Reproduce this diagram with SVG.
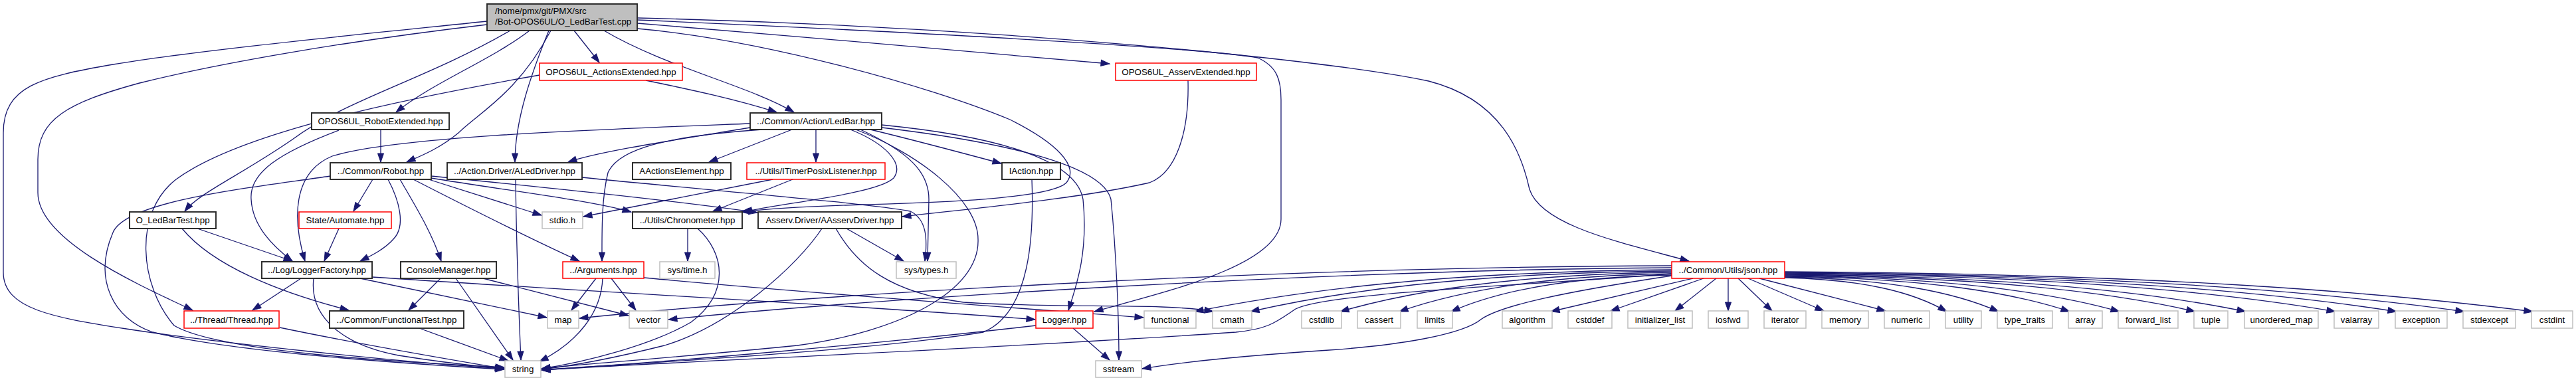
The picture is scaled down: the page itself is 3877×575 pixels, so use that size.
<svg xmlns="http://www.w3.org/2000/svg" width="3877" height="575" viewBox="0 0 3877 575">
<style>
.n rect{fill:#fff;stroke-width:1.5}
.b rect{stroke:#262626;stroke-width:1.9}
.r rect{stroke:#f00}
.g rect{stroke:#bfbfbf}
.m rect{fill:#bfbfbf;stroke:#262626;stroke-width:1.9}
text{font-family:"Liberation Sans",Arial,Helvetica,sans-serif;font-size:13.33px;fill:#000;text-anchor:middle}
.m text{text-anchor:start}
#edges path{fill:none;stroke:#191970;stroke-width:1.3;marker-end:url(#a)}
</style>
<defs>
<marker id="a" markerUnits="userSpaceOnUse" markerWidth="14" markerHeight="10" refX="13" refY="5" orient="auto" overflow="visible">
<path d="M0,0.5 L13,5 L0,9.5 z" fill="#191970" stroke="#191970" stroke-width="1"/>
</marker>
</defs>
<rect width="3877" height="575" fill="#fff"/>
<g id="edges">
<!-- main -->
<path d="M733,32 C560,50 300,75 170,97 C60,116 5,130 5,200 L5,410 C5,465 80,478 190,495 C320,515 600,545 758,555"/>
<path d="M733,37 C520,62 330,95 210,125 C100,155 57,180 57,240 L57,290 C57,360 200,425 290,467"/>
<path d="M768,46 C640,120 520,150 440,210 C360,265 300,290 278,318"/>
<path d="M797,46 C740,90 650,125 596,169"/>
<path d="M829,46 C780,140 720,170 690,200 C660,225 630,236 612,244"/>
<path d="M826,46 C800,110 775,180 775,244"/>
<path d="M864,46 L902,94"/>
<path d="M909,46 C1000,100 1130,130 1195,169"/>
<path d="M959,35 C1200,55 1500,80 1670,96"/>
<path d="M959,30 C1300,45 1800,70 1893,87 C1922,100 1928,120 1928,150 L1928,330 C1928,400 1750,440 1647,469"/>
<path d="M959,27 C1500,40 2000,90 2150,122 C2260,150 2290,230 2302,285 C2320,340 2440,365 2542,393"/>
<path d="M959,43 C1150,60 1400,130 1520,180 C1590,215 1625,250 1605,275 C1580,300 1400,305 1300,308 C1200,311 1150,315 1115,319"/>
<!-- ActionsExtended -->
<path d="M972,121 C1040,135 1110,150 1169,169"/>
<path d="M812,113 C600,150 360,200 265,270 C200,320 210,430 262,490 C330,530 600,545 759,553"/>
<!-- AsservExtended -->
<path d="M1788,121 C1790,200 1770,260 1730,275 C1620,300 1450,315 1358,326"/>
<!-- RobotExtended -->
<path d="M573,195 L573,244"/>
<path d="M510,196 C420,230 375,260 378,300 C380,340 410,370 440,393"/>
<!-- LedBar -->
<path d="M1129,186 C900,195 600,205 500,235 C440,260 440,330 459,393"/>
<path d="M1129,192 C1020,210 900,228 855,244"/>
<path d="M1147,195 C1000,205 930,225 915,260 C905,300 906,350 906,393"/>
<path d="M1192,195 L1067,244"/>
<path d="M1228,195 L1228,244"/>
<path d="M1310,195 C1380,212 1440,228 1507,246"/>
<path d="M1280,195 C1330,215 1362,245 1345,268 C1320,292 1180,305 1119,319"/>
<path d="M1295,195 C1370,230 1398,260 1398,300 L1396,393"/>
<path d="M1288,195 C1380,230 1472,300 1472,360 C1475,440 1350,500 1200,520 C1000,540 850,550 815,555"/>
<path d="M1327,188 C1500,205 1620,240 1630,300 C1638,380 1620,430 1608,467"/>
<path d="M1327,192 C1520,215 1660,250 1672,300 C1680,380 1684,480 1684,542"/>
<!-- Robot -->
<path d="M497,265 C400,280 190,300 170,350 C140,420 170,480 230,500 C350,530 620,548 759,556"/>
<path d="M561,270 L532,318"/>
<path d="M584,270 C600,300 612,340 592,360 C578,376 556,386 542,393"/>
<path d="M602,270 C625,310 650,350 664,393"/>
<path d="M622,270 C700,310 800,360 872,393"/>
<path d="M645,270 L815,324"/>
<path d="M649,268 C750,285 880,300 950,319"/>
<path d="M649,265 C800,280 1000,300 1140,320"/>
<!-- ALedDriver -->
<path d="M776,270 C777,350 780,450 784,542"/>
<path d="M876,267 C1050,285 1300,305 1370,318 C1395,330 1396,360 1392,393"/>
<!-- ITimerPosixListener -->
<path d="M1163,270 L878,326"/>
<path d="M1193,270 L1073,318"/>
<!-- IAction -->
<path d="M1553,270 C1556,350 1552,470 1480,500 C1300,530 900,550 815,557"/>
<!-- O_LedBarTest -->
<path d="M297,344 L440,393"/>
<path d="M274,344 C320,400 420,440 525,467"/>
<!-- Automate -->
<path d="M510,344 L488,393"/>
<!-- Chronometer -->
<path d="M1035,344 L1035,393"/>
<path d="M1050,344 C1090,380 1100,440 1040,485 C980,520 880,545 815,555"/>
<!-- AAsservDriver -->
<path d="M1237,344 C1200,400 1100,490 1000,520 C900,545 850,552 815,556"/>
<path d="M1274,344 L1360,393"/>
<path d="M1258,344 C1290,400 1340,440 1450,455 C1600,465 1750,455 1826,469"/>
<!-- LoggerFactory -->
<path d="M453,419 L380,467"/>
<path d="M472,419 C465,480 520,520 600,535 C680,548 730,552 759,555"/>
<path d="M542,419 L823,478"/>
<path d="M560,417 C900,440 1300,460 1558,481"/>
<!-- ConsoleManager -->
<path d="M663,419 L615,467"/>
<path d="M686,419 L772,542"/>
<path d="M727,419 L946,475"/>
<!-- Arguments -->
<path d="M897,419 L860,467"/>
<path d="M920,419 L957,467"/>
<path d="M907,419 C905,470 870,515 812,544"/>
<path d="M969,418 C1200,440 1550,465 1721,478"/>
<!-- Thread / FunctionalTest -->
<path d="M421,493 C550,520 700,545 759,555"/>
<path d="M631,494 L765,543"/>
<!-- Logger -->
<path d="M1615,494 L1670,542"/>
<path d="M1559,490 C1300,520 1000,545 815,557"/>
<!-- json -->
<path d="M2516,412 C2300,430 2000,440 1950,465 C1920,485 1910,495 1860,500 C1500,525 1000,545 815,557"/>
<path d="M2516,415 C2350,440 2260,460 2230,480 C2200,505 2100,520 2000,527 C1850,537 1760,548 1719,555"/>
<path d="M2516,400 C1900,402 1200,445 872,479"/>
<path d="M2516,403 C2000,406 1300,450 1006,481"/>
<path d="M2516,406 C2157,409 1942,440 1798,469"/>
<path d="M2516,408 C2199,411 2009,440 1882,469"/>
<path d="M2516,410 C2266,413 2117,440 2017,469"/>
<path d="M2516,412 C2311,415 2188,440 2106,469"/>
<path d="M2516,414 C2350,417 2250,440 2184,469"/>
<path d="M2548,419 L2334,469"/>
<path d="M2564,419 L2424,468"/>
<path d="M2583,419 L2521,468"/>
<path d="M2601,419 L2601,468"/>
<path d="M2616,419 L2667,468"/>
<path d="M2631,419 L2745,468"/>
<path d="M2648,419 L2838,468"/>
<path d="M2686,418 C2807,421 2880,440 2930,469"/>
<path d="M2686,417 C2846,420 2942,440 3008,469"/>
<path d="M2686,416 C2900,419 3028,440 3115,469"/>
<path d="M2686,415 C2937,418 3088,440 3190,469"/>
<path d="M2686,414 C2994,417 3179,440 3304,469"/>
<path d="M2686,413 C3032,416 3240,440 3380,469"/>
<path d="M2686,412 C3100,415 3348,440 3515,469"/>
<path d="M2686,411 C3146,414 3421,440 3607,469"/>
<path d="M2686,410 C3197,413 3503,440 3709,469"/>
<path d="M2686,409 C3248,412 3585,440 3812,469"/>
</g>
<g id="n0" class="n m"><rect x="733" y="6" width="226" height="40"/><text x="745" y="21">/home/pmx/git/PMX/src</text><text x="745" y="37">/Bot-OPOS6UL/O_LedBarTest.cpp</text></g>
<g id="n1" class="n r"><rect x="812" y="95" width="215" height="26"/><text x="919.5" y="113">OPOS6UL_ActionsExtended.hpp</text></g>
<g id="n2" class="n r"><rect x="1679" y="95" width="212" height="26"/><text x="1785" y="113">OPOS6UL_AsservExtended.hpp</text></g>
<g id="n3" class="n b"><rect x="469" y="170" width="207" height="25"/><text x="572.5" y="187">OPOS6UL_RobotExtended.hpp</text></g>
<g id="n4" class="n b"><rect x="1129" y="170" width="198" height="25"/><text x="1228" y="187">../Common/Action/LedBar.hpp</text></g>
<g id="n5" class="n b"><rect x="497" y="245" width="152" height="25"/><text x="573" y="262">../Common/Robot.hpp</text></g>
<g id="n6" class="n b"><rect x="673" y="245" width="203" height="25"/><text x="774.5" y="262">../Action.Driver/ALedDriver.hpp</text></g>
<g id="n7" class="n b"><rect x="952" y="245" width="148" height="25"/><text x="1026" y="262">AActionsElement.hpp</text></g>
<g id="n8" class="n r"><rect x="1124" y="245" width="208" height="25"/><text x="1228" y="262">../Utils/ITimerPosixListener.hpp</text></g>
<g id="n9" class="n b"><rect x="1508" y="245" width="88" height="25"/><text x="1552" y="262">IAction.hpp</text></g>
<g id="n10" class="n b"><rect x="195" y="319" width="130" height="25"/><text x="260" y="336">O_LedBarTest.hpp</text></g>
<g id="n11" class="n r"><rect x="450" y="319" width="139" height="25"/><text x="519.5" y="336">State/Automate.hpp</text></g>
<g id="n12" class="n g"><rect x="816" y="319" width="61" height="25"/><text x="846.5" y="336">stdio.h</text></g>
<g id="n13" class="n b"><rect x="952" y="319" width="165" height="25"/><text x="1034.5" y="336">../Utils/Chronometer.hpp</text></g>
<g id="n14" class="n b"><rect x="1141" y="319" width="216" height="25"/><text x="1249" y="336">Asserv.Driver/AAsservDriver.hpp</text></g>
<g id="n15" class="n b"><rect x="394" y="394" width="166" height="25"/><text x="477" y="411">../Log/LoggerFactory.hpp</text></g>
<g id="n16" class="n b"><rect x="603" y="394" width="144" height="25"/><text x="675" y="411">ConsoleManager.hpp</text></g>
<g id="n17" class="n r"><rect x="847" y="394" width="122" height="25"/><text x="908" y="411">../Arguments.hpp</text></g>
<g id="n18" class="n g"><rect x="993" y="394" width="83" height="25"/><text x="1034.5" y="411">sys/time.h</text></g>
<g id="n19" class="n g"><rect x="1349" y="394" width="90" height="25"/><text x="1394" y="411">sys/types.h</text></g>
<g id="n20" class="n r"><rect x="2516" y="394" width="170" height="25"/><text x="2601" y="411">../Common/Utils/json.hpp</text></g>
<g id="n21" class="n r"><rect x="277" y="468" width="143" height="26"/><text x="348.5" y="486">../Thread/Thread.hpp</text></g>
<g id="n22" class="n b"><rect x="496" y="468" width="202" height="26"/><text x="597" y="486">../Common/FunctionalTest.hpp</text></g>
<g id="n23" class="n g"><rect x="824" y="468" width="47" height="26"/><text x="847.5" y="486">map</text></g>
<g id="n24" class="n g"><rect x="947" y="468" width="58" height="26"/><text x="976" y="486">vector</text></g>
<g id="n25" class="n r"><rect x="1559" y="468" width="86" height="26"/><text x="1602" y="486">Logger.hpp</text></g>
<g id="n26" class="n g"><rect x="1722" y="468" width="78" height="26"/><text x="1761" y="486">functional</text></g>
<g id="n27" class="n g"><rect x="1825" y="468" width="59" height="26"/><text x="1854.5" y="486">cmath</text></g>
<g id="n28" class="n g"><rect x="1959" y="468" width="60" height="26"/><text x="1989" y="486">cstdlib</text></g>
<g id="n29" class="n g"><rect x="2043" y="468" width="65" height="26"/><text x="2075.5" y="486">cassert</text></g>
<g id="n30" class="n g"><rect x="2133" y="468" width="53" height="26"/><text x="2159.5" y="486">limits</text></g>
<g id="n31" class="n g"><rect x="2261" y="468" width="75" height="26"/><text x="2298.5" y="486">algorithm</text></g>
<g id="n32" class="n g"><rect x="2360" y="468" width="66" height="26"/><text x="2393" y="486">cstddef</text></g>
<g id="n33" class="n g"><rect x="2450" y="468" width="97" height="26"/><text x="2498.5" y="486">initializer_list</text></g>
<g id="n34" class="n g"><rect x="2571" y="468" width="60" height="26"/><text x="2601" y="486">iosfwd</text></g>
<g id="n35" class="n g"><rect x="2655" y="468" width="63" height="26"/><text x="2686.5" y="486">iterator</text></g>
<g id="n36" class="n g"><rect x="2742" y="468" width="70" height="26"/><text x="2777" y="486">memory</text></g>
<g id="n37" class="n g"><rect x="2836" y="468" width="68" height="26"/><text x="2870" y="486">numeric</text></g>
<g id="n38" class="n g"><rect x="2928" y="468" width="54" height="26"/><text x="2955" y="486">utility</text></g>
<g id="n39" class="n g"><rect x="3006" y="468" width="83" height="26"/><text x="3047.5" y="486">type_traits</text></g>
<g id="n40" class="n g"><rect x="3113" y="468" width="51" height="26"/><text x="3138.5" y="486">array</text></g>
<g id="n41" class="n g"><rect x="3188" y="468" width="90" height="26"/><text x="3233" y="486">forward_list</text></g>
<g id="n42" class="n g"><rect x="3302" y="468" width="51" height="26"/><text x="3327.5" y="486">tuple</text></g>
<g id="n43" class="n g"><rect x="3378" y="468" width="111" height="26"/><text x="3433.5" y="486">unordered_map</text></g>
<g id="n44" class="n g"><rect x="3513" y="468" width="67" height="26"/><text x="3546.5" y="486">valarray</text></g>
<g id="n45" class="n g"><rect x="3605" y="468" width="78" height="26"/><text x="3644" y="486">exception</text></g>
<g id="n46" class="n g"><rect x="3707" y="468" width="79" height="26"/><text x="3746.5" y="486">stdexcept</text></g>
<g id="n47" class="n g"><rect x="3810" y="468" width="62" height="26"/><text x="3841" y="486">cstdint</text></g>
<g id="n48" class="n g"><rect x="760" y="543" width="54" height="25"/><text x="787" y="560">string</text></g>
<g id="n49" class="n g"><rect x="1649" y="543" width="69" height="25"/><text x="1683.5" y="560">sstream</text></g>
</svg>
